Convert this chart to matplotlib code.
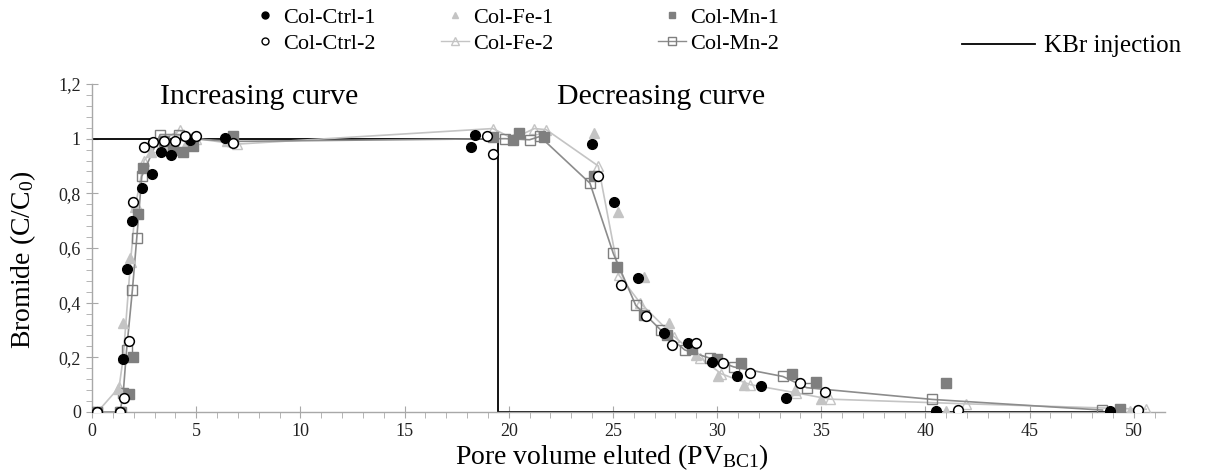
import matplotlib
matplotlib.use('Agg')
import matplotlib.pyplot as plt
from matplotlib.lines import Line2D
from matplotlib.ticker import MultipleLocator, FuncFormatter

plt.rcParams['font.family'] = 'Liberation Serif'
plt.rcParams['mathtext.fontset'] = 'custom'
plt.rcParams['mathtext.rm'] = 'Liberation Serif'

# Bromide breakthrough data (x = pore volume, y = C/C0)
ctrl1_x = [0.26, 1.35, 1.47, 1.7, 1.9, 2.39, 2.87, 3.31, 3.79, 4.7, 6.39, 18.2, 18.36,
           24.0, 25.07, 26.2, 27.45, 28.6, 29.76, 30.96, 32.1, 33.3, 40.52, 48.85]
ctrl1_y = [0, 0, 0.194, 0.524, 0.70, 0.82, 0.871, 0.951, 0.941, 0.996, 1.002, 0.968, 1.012,
           0.98, 0.767, 0.49, 0.29, 0.254, 0.184, 0.13, 0.095, 0.052, 0.005, 0.005]

ctrl2_x = [0.26, 1.35, 1.55, 1.78, 1.98, 2.51, 2.95, 3.46, 3.99, 4.47, 5.0, 6.76, 18.96, 19.24,
           24.3, 25.4, 26.6, 27.85, 29.0, 30.3, 31.56, 34.0, 35.2, 41.56, 50.2]
ctrl2_y = [0, 0, 0.052, 0.259, 0.77, 0.968, 0.987, 0.99, 0.99, 1.008, 1.008, 0.984, 1.01, 0.944,
           0.862, 0.465, 0.35, 0.245, 0.254, 0.179, 0.144, 0.105, 0.072, 0.007, 0.007]

fe1_x = [0.26, 1.27, 1.47, 1.83, 2.05, 2.85, 3.5, 4.5, 6.5, 24.1, 25.26, 26.5, 27.7, 29.0,
         30.05, 31.3, 33.76, 35.0, 41.0, 49.8]
fe1_y = [0, 0.083, 0.325, 0.563, 0.75, 0.95, 0.97, 0.98, 0.99, 1.02, 0.73, 0.495, 0.325, 0.21,
         0.13, 0.099, 0.08, 0.047, 0.005, 0.005]

fe2_x = [0.26, 1.3, 1.5, 1.85, 2.1, 2.5, 3.0, 3.5, 4.2, 5.0, 6.95, 19.24, 20.2, 21.23, 21.8,
         24.3, 25.3, 26.3, 27.95, 29.2, 30.2, 31.6, 33.8, 35.4, 41.93, 50.6]
fe2_y = [0, 0.09, 0.2, 0.55, 0.76, 0.92, 0.97, 1.0, 1.03, 1.0, 0.98, 1.037, 1.0, 1.037, 1.033,
         0.90, 0.50, 0.40, 0.275, 0.198, 0.14, 0.10, 0.07, 0.047, 0.03, 0.01]

mn1_x = [0.26, 1.4, 1.78, 1.95, 2.22, 2.43, 3.46, 3.87, 4.39, 4.87, 6.79, 19.27, 20.2, 20.5,
         21.7, 24.08, 25.2, 26.5, 27.6, 28.8, 30.0, 31.15, 33.6, 34.75, 40.97, 49.34]
mn1_y = [0, 0, 0.065, 0.2, 0.724, 0.893, 0.99, 0.96, 0.95, 0.974, 1.01, 1.005, 0.996, 1.02,
         1.005, 0.862, 0.53, 0.355, 0.28, 0.23, 0.194, 0.179, 0.139, 0.111, 0.105, 0.01]

mn2_x = [0.26, 1.35, 1.5, 1.66, 1.94, 2.15, 2.39, 3.27, 4.19, 4.8, 6.7, 19.84, 21.0, 21.5,
         23.9, 25.02, 26.1, 27.3, 28.45, 29.65, 30.8, 33.16, 34.3, 40.33, 48.5]
mn2_y = [0, 0, 0.07, 0.227, 0.447, 0.638, 0.862, 1.015, 1.015, 1.0, 0.99, 1.0, 0.996, 1.008,
         0.837, 0.58, 0.39, 0.30, 0.227, 0.197, 0.165, 0.13, 0.089, 0.046, 0.007]

# KBr injection step
kbr_x = [0, 19.5, 19.5, 49.5]
kbr_y = [1, 1, 0, 0]

fe_col = '#c4c4c4'
mn_col = '#7f7f7f'
axis_col = '#a8a8a8'

fig = plt.figure(figsize=(12.12, 4.72), dpi=100)
ax = fig.add_axes([92 / 1212, 60 / 472, 1073 / 1212, 328 / 472])

ax.plot(kbr_x, kbr_y, color='black', lw=1.3, zorder=2)

ax.plot(fe2_x, fe2_y, color=fe_col, lw=1.2, marker='^', ms=7, mfc='none', mec=fe_col,
        mew=1.0, zorder=3)
ax.plot(mn2_x, mn2_y, color='#8c8c8c', lw=1.2, marker='s', ms=6.5, mfc='none', mec=mn_col,
        mew=1.0, zorder=3)
ax.plot(fe1_x, fe1_y, ls='none', marker='^', ms=6.5, color=fe_col, zorder=4)
ax.plot(mn1_x, mn1_y, ls='none', marker='s', ms=6.5, color=mn_col, zorder=4)
ax.plot(ctrl1_x, ctrl1_y, ls='none', marker='o', ms=7, color='black', zorder=5)
ax.plot(ctrl2_x, ctrl2_y, ls='none', marker='o', ms=7, mfc='white', mec='black', mew=1.1,
        zorder=6)

ax.set_xlim(0, 51.5)
ax.set_ylim(0, 1.2)
ax.xaxis.set_major_locator(MultipleLocator(5))
ax.xaxis.set_minor_locator(MultipleLocator(1))
ax.yaxis.set_major_locator(MultipleLocator(0.2))
ax.yaxis.set_minor_locator(MultipleLocator(0.04))
ax.yaxis.set_major_formatter(FuncFormatter(lambda v, p: ('%g' % round(v, 1)).replace('.', ',')))

for s in ['top', 'right']:
    ax.spines[s].set_visible(False)
for s in ['left', 'bottom']:
    ax.spines[s].set_color(axis_col)
    ax.spines[s].set_linewidth(1.0)
ax.tick_params(which='major', direction='inout', length=8, color=axis_col, labelsize=13,
               labelcolor='#222222', pad=4)
ax.tick_params(which='minor', direction='out', length=4, color=axis_col)

ax.set_xlabel(r'Pore volume eluted (PV$\mathregular{_{BC1}}$)', fontsize=20)
ax.set_ylabel(r'Bromide (C/C$\mathregular{_0}$)', fontsize=20)
ax.xaxis.set_label_coords(0.485, -0.092)
ax.yaxis.set_label_coords(-0.05, 0.463)

ax.text(3.27, 1.125, 'Increasing curve', fontsize=21.5, va='baseline')
ax.text(22.33, 1.125, 'Decreasing curve', fontsize=21.5, va='baseline')

# legend: one small two-row legend per column, like the Excel layout
leg_font = {'family': 'Liberation Serif', 'size': 16}
columns = [
    (251, [Line2D([], [], ls='none', marker='o', ms=5, color='black'),
           Line2D([], [], ls='none', marker='o', ms=5, mfc='white', mec='black')],
     ['Col-Ctrl-1', 'Col-Ctrl-2']),
    (441, [Line2D([], [], ls='none', marker='^', ms=5, color=fe_col),
           Line2D([], [], color=fe_col, lw=1, marker='^', ms=5.5, mfc='none', mec=fe_col)],
     ['Col-Fe-1', 'Col-Fe-2']),
    (658, [Line2D([], [], ls='none', marker='s', ms=5, color=mn_col),
           Line2D([], [], color='#8c8c8c', lw=1, marker='s', ms=5.5, mfc='none', mec=mn_col)],
     ['Col-Mn-1', 'Col-Mn-2']),
]
for x0, hs, ls in columns:
    fig.legend(hs, ls, loc='upper left', bbox_to_anchor=(x0 / 1212, 1 - 7 / 472), frameon=False,
               prop=leg_font, handlelength=1.26, handletextpad=0.18, labelspacing=0.25,
               borderpad=0, borderaxespad=0)
fig.legend([Line2D([], [], color='black', lw=1.3)], ['KBr injection'], loc='center left',
           bbox_to_anchor=(962 / 1212, 1 - 46 / 472), frameon=False,
           prop={'family': 'Liberation Serif', 'size': 18}, handlelength=2.9,
           handletextpad=0.4, borderpad=0, borderaxespad=0)

fig.savefig('out.png', dpi=100)
